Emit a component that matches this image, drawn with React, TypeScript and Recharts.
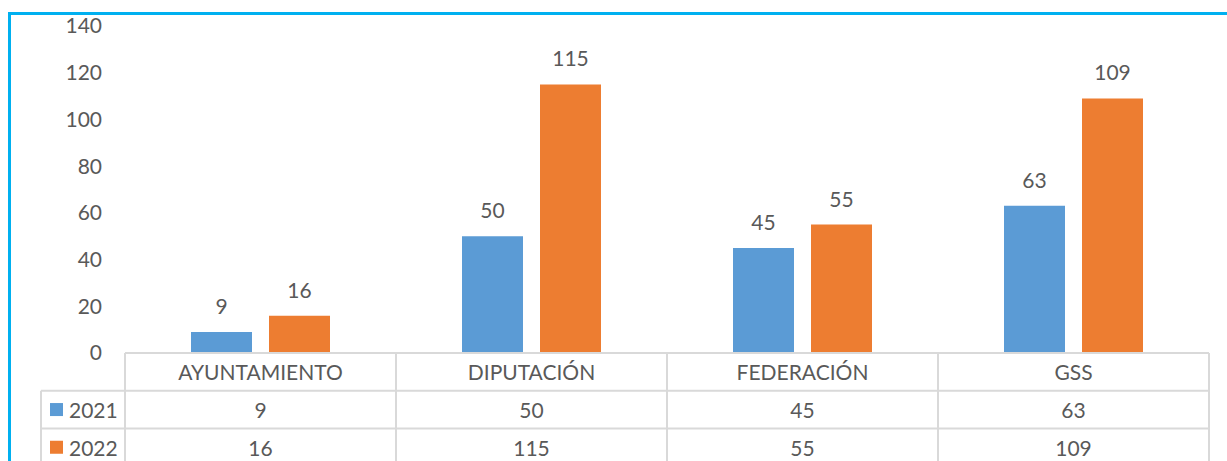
import { BarChart, Bar, XAxis, YAxis, LabelList } from "recharts";

const categories = ["AYUNTAMIENTO", "DIPUTACIÓN", "FEDERACIÓN", "GSS"];
const values2021 = [9, 50, 45, 63];
const values2022 = [16, 115, 55, 109];
const seriesNames = ["2021", "2022"];
const yTicks = [0, 20, 40, 60, 80, 100, 120, 140];

const data = categories.map((name, i) => ({
  name,
  y2021: values2021[i],
  y2022: values2022[i],
}));

const WIDTH = 1227;
const HEIGHT = 461;
const Y_AXIS_W = 125;
const RIGHT = 18;
const COL_W = (WIDTH - Y_AXIS_W - RIGHT) / categories.length;
const ROW_H = 37.7;
const GRID = "#d9d9d9";
const TEXT = "#595959";
const FONT = "Lato, 'Liberation Sans', sans-serif";
const BLUE = "#5b9bd5";
const ORANGE = "#ed7d31";

function TableTick(props: any) {
  const { x, y, payload, index } = props;
  const i = payload?.index ?? index;
  const left = x - COL_W / 2;
  const right = x + COL_W / 2;
  const bottom = HEIGHT + 10;
  const rows = [values2021[i], values2022[i]];
  const legendLeft = left - 84;
  return (
    <g fontFamily={FONT} fontSize={21} fill={TEXT}>
      <line x1={left} y1={y} x2={right} y2={y} stroke={GRID} strokeWidth={2} />
      <line x1={i === 0 ? legendLeft : left} y1={y + ROW_H} x2={right} y2={y + ROW_H} stroke={GRID} strokeWidth={2} />
      <line x1={i === 0 ? legendLeft : left} y1={y + ROW_H * 2} x2={right} y2={y + ROW_H * 2} stroke={GRID} strokeWidth={2} />
      <line x1={left} y1={y} x2={left} y2={bottom} stroke={GRID} strokeWidth={2} />
      <line x1={right} y1={y} x2={right} y2={bottom} stroke={GRID} strokeWidth={2} />
      <text x={x} y={y + ROW_H / 2} textAnchor="middle" dominantBaseline="central">
        {payload.value}
      </text>
      {rows.map((v, r) => (
        <text key={r} x={x} y={y + ROW_H * (r + 1.5)} textAnchor="middle" dominantBaseline="central">
          {v}
        </text>
      ))}
      {i === 0 && (
        <g>
          <line x1={legendLeft} y1={y + ROW_H} x2={legendLeft} y2={bottom} stroke={GRID} strokeWidth={2} />
          {seriesNames.map((s, r) => (
            <g key={s}>
              <rect x={legendLeft + 9} y={y + ROW_H * (r + 1.5) - 6.5} width={13} height={13} fill={r === 0 ? BLUE : ORANGE} />
              <text x={legendLeft + 28} y={y + ROW_H * (r + 1.5)} dominantBaseline="central">
                {s}
              </text>
            </g>
          ))}
        </g>
      )}
    </g>
  );
}

export default function App() {
  return (
    <div style={{ position: "absolute", left: 0, top: 0, width: WIDTH, height: HEIGHT, background: "#fff", overflow: "hidden" }}>
      <div
        style={{
          position: "absolute",
          left: 8,
          top: 12,
          right: -10,
          bottom: -10,
          borderLeft: "3px solid #00b0f0",
          borderTop: "3px solid #00b0f0",
        }}
      />
      <div style={{ position: "absolute", left: 0, top: 0 }}>
        <BarChart
          width={WIDTH}
          height={HEIGHT}
          data={data}
          margin={{ top: 26, right: RIGHT, left: 0, bottom: 0 }}
          barGap={17}
          style={{ overflow: "visible" }}
        >
          <YAxis
            width={Y_AXIS_W}
            domain={[0, 140]}
            ticks={yTicks}
            axisLine={false}
            tickLine={false}
            tickSize={6}
            tickMargin={17}
            tick={{ fill: TEXT, fontSize: 21, fontFamily: FONT }}
          />
          <XAxis
            dataKey="name"
            height={108}
            axisLine={false}
            tickLine={false}
            tickSize={0}
            tickMargin={0}
            interval={0}
            tick={<TableTick />}
          />
          <Bar dataKey="y2021" name="2021" fill={BLUE} barSize={61} isAnimationActive={false}>
            <LabelList dataKey="y2021" position="top" offset={18} fill={TEXT} fontSize={21} fontFamily={FONT} />
          </Bar>
          <Bar dataKey="y2022" name="2022" fill={ORANGE} barSize={61} isAnimationActive={false}>
            <LabelList dataKey="y2022" position="top" offset={18} fill={TEXT} fontSize={21} fontFamily={FONT} />
          </Bar>
        </BarChart>
      </div>
    </div>
  );
}
